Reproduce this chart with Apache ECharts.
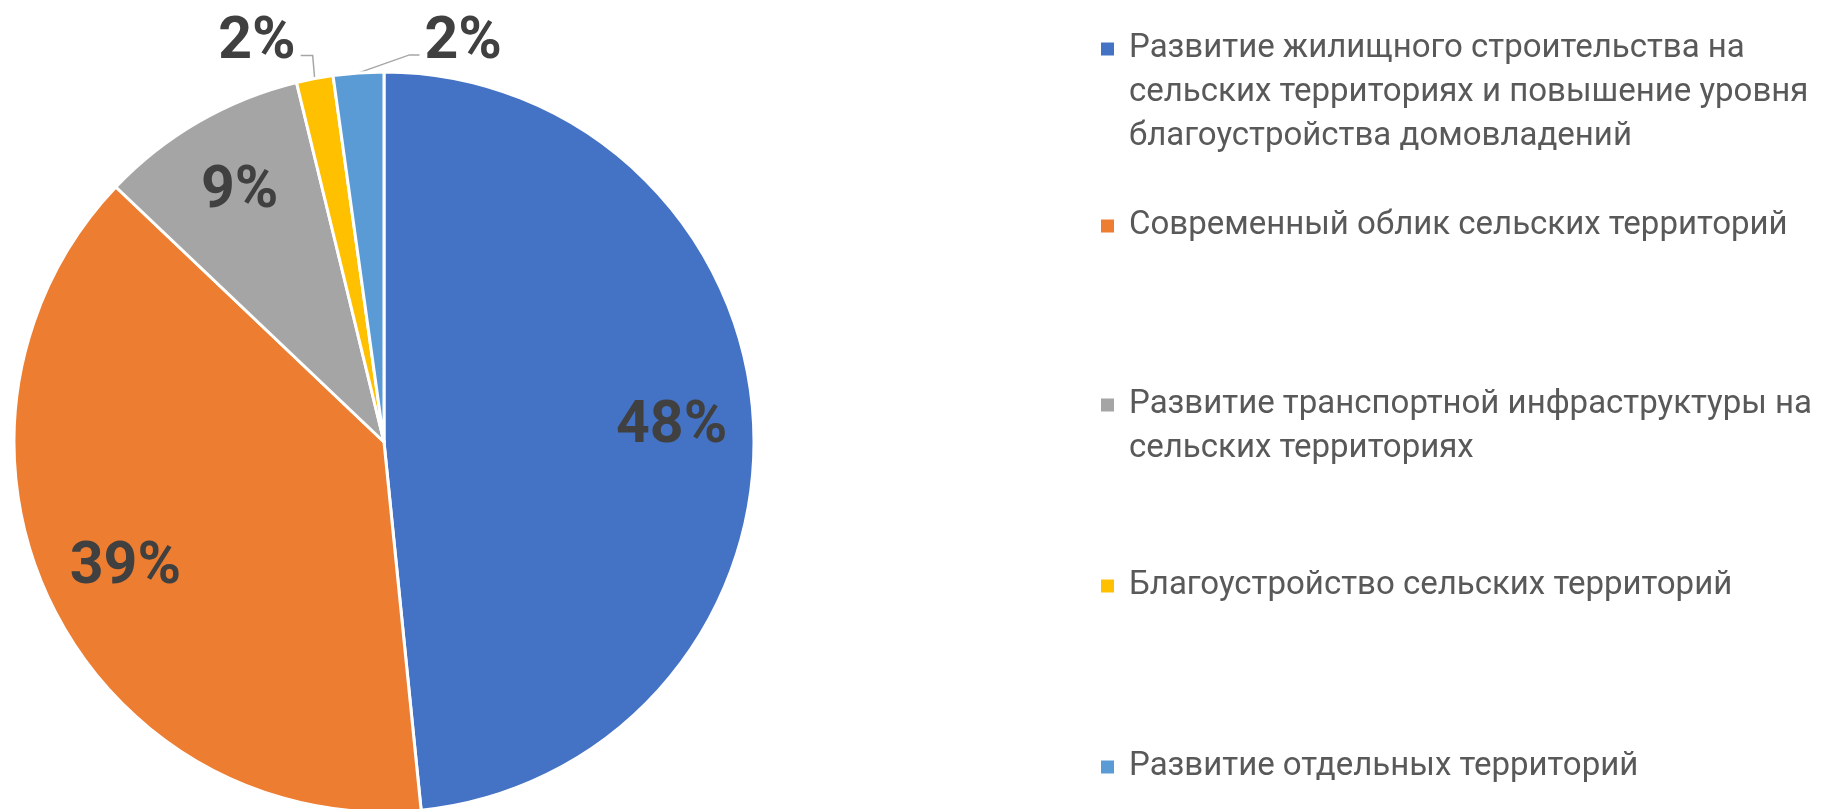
<!DOCTYPE html>
<html>
<head>
<meta charset="utf-8">
<script src="https://cdn.jsdelivr.net/npm/echarts@6/dist/echarts.min.js"></script>
<style>
html,body{margin:0;padding:0;background:#fff;}
#chart{width:1823px;height:809px;}
</style>
</head>
<body>
<div id="chart"></div>
<script>
const categories = [
  'Развитие жилищного строительства на сельских территориях и повышение уровня благоустройства домовладений',
  'Современный облик сельских территорий',
  'Развитие транспортной инфраструктуры на сельских территориях',
  'Благоустройство сельских территорий',
  'Развитие отдельных территорий'
];
const legendLabels = [
  'Развитие жилищного строительства на\nсельских территориях и повышение уровня\nблагоустройства домовладений',
  'Современный облик сельских территорий',
  'Развитие транспортной инфраструктуры на\nсельских территориях',
  'Благоустройство сельских территорий',
  'Развитие отдельных территорий'
];
const values = [48.4, 38.7, 9.1, 1.6, 2.2];
const colors = ['#4472C4', '#ED7D31', '#A5A5A5', '#FFC000', '#5B9BD5'];
const insideLabelIdx = [0, 1, 2];
const outsideLabelIdx = [3, 4];

const LH = 44;
const legendCenters = [49, 226, 405, 586, 767];

const chart = echarts.init(document.getElementById('chart'), null, {renderer: 'canvas'});

const fmt = p => Math.round(p.percent) + '%';
const labelFont = {fontFamily: 'Roboto', fontWeight: 'bold', fontSize: 59, color: '#404040'};

const legends = categories.map((name, i) => {
  const n = legendLabels[i].split('\n').length;
  // leading blank lines keep the icon level with the first text line
  const txt = '\n'.repeat(n - 1) + legendLabels[i];
  return {
    data: [name],
    orient: 'vertical',
    left: 1099,
    top: legendCenters[i] - (n - 0.5) * LH,
    padding: 0,
    itemWidth: 15,
    itemHeight: 15,
    icon: 'rect',
    selectedMode: false,
    formatter: () => txt,
    textStyle: {
      fontFamily: 'Roboto',
      fontSize: 33,
      color: '#595959',
      lineHeight: LH,
      padding: [0, 0, 0, 9]
    }
  };
});

const option = {
  backgroundColor: '#ffffff',
  color: colors,
  animation: false,
  legend: legends,
  series: [
    {
      name: 'main',
      type: 'pie',
      center: [384, 442],
      radius: 370,
      startAngle: 90,
      clockwise: true,
      avoidLabelOverlap: false,
      itemStyle: {borderColor: '#ffffff', borderWidth: 3},
      label: Object.assign({show: false, position: 'outside', formatter: fmt}, labelFont),
      labelLine: {show: false, lineStyle: {color: '#A6A6A6', width: 1.5}},
      data: categories.map((name, i) => {
        const out = outsideLabelIdx.includes(i);
        return {
          name: name,
          value: values[i],
          itemStyle: {color: colors[i]},
          label: {show: out},
          labelLine: {show: out}
        };
      }),
      labelLayout: function (params) {
        const pts = params.labelLinePoints;
        if (!pts) return {};
        const p0 = pts[0];
        if (params.dataIndex === 3) {
          const p1 = [p0[0] - 2, p0[1] - 23];
          const p2 = [p1[0] - 12, p1[1]];
          return {x: p2[0] - 5, y: p2[1] - 12, align: 'right', verticalAlign: 'middle',
                  labelLinePoints: [p0, p1, p2]};
        }
        if (params.dataIndex === 4) {
          const p1 = [p0[0] + 51, p0[1] - 18];
          const p2 = [p1[0] + 10, p1[1]];
          return {x: p2[0] + 5, y: p2[1] - 12, align: 'left', verticalAlign: 'middle',
                  labelLinePoints: [p0, p1, p2]};
        }
        return {};
      }
    },
    {
      name: 'labels',
      type: 'pie',
      center: [384, 442],
      radius: [200, 370],
      startAngle: 90,
      clockwise: true,
      silent: true,
      avoidLabelOverlap: false,
      itemStyle: {color: 'rgba(0,0,0,0)', borderWidth: 0},
      label: Object.assign({show: true, position: 'inside', formatter: fmt}, labelFont),
      labelLine: {show: false},
      data: categories.map((name, i) => ({
        name: name,
        value: values[i],
        label: {show: insideLabelIdx.includes(i)}
      }))
    }
  ]
};
chart.setOption(option);
</script>
</body>
</html>
